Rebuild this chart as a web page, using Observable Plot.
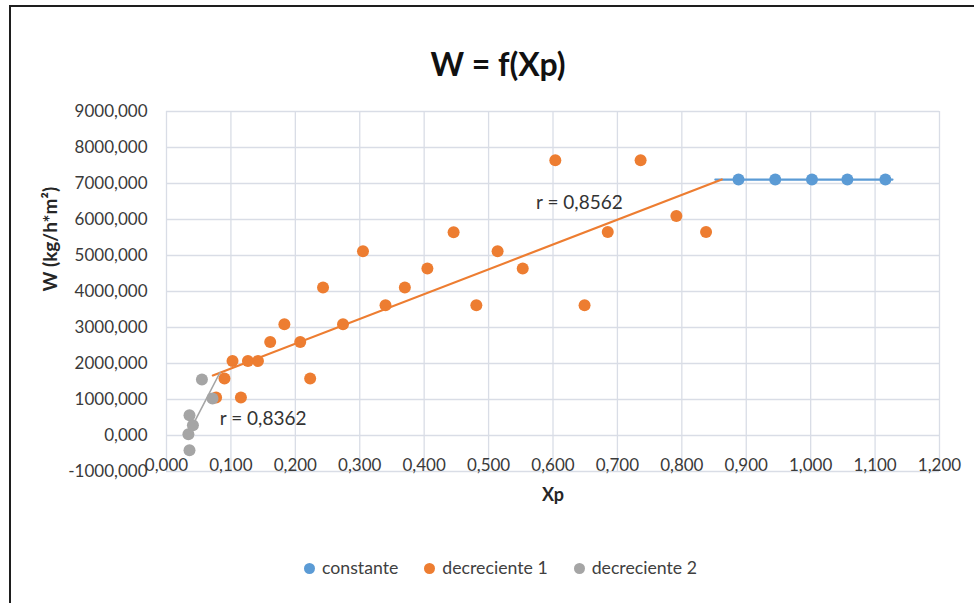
<!DOCTYPE html>
<html><head><meta charset="utf-8">
<script src="https://cdn.jsdelivr.net/npm/d3@7"></script>
<script src="https://cdn.jsdelivr.net/npm/@observablehq/plot@0.6"></script>
<style>
body{margin:0;background:#fff;}
#wrap{position:relative;width:974px;height:603px;overflow:hidden;font-family:Lato,sans-serif;background:#fff;}
#wrap svg{position:absolute;left:0;top:0;}
#frame{position:absolute;left:9px;top:5px;right:-4px;bottom:-4px;border-left:2px solid #1e1e1e;border-top:2px solid #1e1e1e;pointer-events:none;}
#legend{position:absolute;top:556px;left:304px;display:flex;align-items:center;font-size:17.7px;color:#404040;white-space:nowrap;line-height:24px;}
.item{display:flex;align-items:center;margin-right:26px;}
.sw{width:11px;height:11px;border-radius:50%;margin-right:7px;}
</style></head>
<body><div id="wrap"></div>
<script>
// ---- text ----
const title = "W = f(Xp)";
const xTitle = "Xp";
const yTitle = "W (kg/h*m²)";
const seriesNames = ["constante", "decreciente 1", "decreciente 2"];
const seriesColors = ["#5b9bd5", "#ed7d31", "#a5a5a5"];

// ---- ticks ----
const xTicks = [0, 0.1, 0.2, 0.3, 0.4, 0.5, 0.6, 0.7, 0.8, 0.9, 1.0, 1.1, 1.2];
const yTicks = [-1000, 0, 1000, 2000, 3000, 4000, 5000, 6000, 7000, 8000, 9000];

// ---- series: constante ----
const constX = [0.888, 0.945, 1.002, 1.057, 1.116];
const constW = [7110, 7110, 7110, 7110, 7110];

// ---- series: decreciente 1 ----
const dec1X = [0.077, 0.090, 0.1025, 0.1155, 0.1264, 0.142, 0.161, 0.183, 0.2076, 0.223, 0.243, 0.274, 0.305,
               0.340, 0.370, 0.405, 0.4457, 0.481, 0.514, 0.553, 0.6036, 0.649, 0.685, 0.736, 0.7915, 0.8376];
const dec1W = [1055, 1583, 2072, 1055, 2072, 2072, 2600, 3092, 2600, 1583, 4111, 3092, 5119,
               3619, 4111, 4639, 5647, 3619, 5119, 4639, 7647, 3619, 5656, 7647, 6100, 5656];

// ---- series: decreciente 2 ----
const dec2X = [0.034, 0.0357, 0.0357, 0.041, 0.055, 0.0714];
const dec2W = [36, -408, 564, 286, 1555, 1028];

// ---- trend lines ----
const trendConstX = [0.852, 1.127];
const trendConstW = [7110, 7110];
const trend1X = [0.072, 0.862];
const trend1W = [1667, 7111];
const trend2X = [0.042, 0.083];
const trend2W = [330, 1750];

// ---- annotations ----
const annText = ["r = 0,8562", "r = 0,8362"];
const annX = [0.641, 0.150];
const annW = [6453, 453];

// ---- build tables ----
const rows = (xs, ws) => xs.map((x, i) => ({x, w: ws[i]}));
const constRows = rows(constX, constW);
const dec1Rows = rows(dec1X, dec1W);
const dec2Rows = rows(dec2X, dec2W);
const tConst = rows(trendConstX, trendConstW);
const t1 = rows(trend1X, trend1W);
const t2 = rows(trend2X, trend2W);
const ann = annText.map((t, i) => ({t, x: annX[i], w: annW[i]}));

const fmt = v => v.toFixed(3).replace(".", ",");
const gridStyle = {stroke: "#d9dde6", strokeOpacity: 1, strokeWidth: 1.3};

const chart = Plot.plot({
  width: 974, height: 603,
  marginLeft: 166, marginRight: 35, marginTop: 111, marginBottom: 132,
  style: {fontFamily: "Lato, sans-serif", fontSize: "17px", color: "#3a3a3a", background: "transparent", overflow: "visible"},
  x: {domain: [0, 1.2]},
  y: {domain: [-1000, 9000]},
  marks: [
    Plot.gridY(yTicks, gridStyle),
    Plot.gridX(xTicks, gridStyle),
    Plot.axisY(yTicks, {tickSize: 0, tickPadding: 19, tickFormat: fmt, label: null}),
    Plot.axisX(xTicks, {tickSize: 0, tickPadding: 0, dy: -13, tickFormat: fmt, label: null}),
    Plot.dot(constRows, {x: "x", y: "w", r: 6, fill: seriesColors[0]}),
    Plot.dot(dec1Rows, {x: "x", y: "w", r: 6, fill: seriesColors[1]}),
    Plot.dot(dec2Rows, {x: "x", y: "w", r: 6, fill: seriesColors[2]}),
    Plot.line(tConst, {x: "x", y: "w", stroke: seriesColors[0], strokeWidth: 2.2}),
    Plot.line(t1, {x: "x", y: "w", stroke: seriesColors[1], strokeWidth: 2.2}),
    Plot.line(t2, {x: "x", y: "w", stroke: seriesColors[2], strokeWidth: 1.6}),
    Plot.text(ann, {x: "x", y: "w", text: "t", fontSize: 19, fill: "#333"}),
    Plot.text([title], {frameAnchor: "top", dy: -58, dx: -55, fontSize: 32, fontWeight: "bold", fill: "#111"}),
    Plot.text([xTitle], {frameAnchor: "bottom", dy: 29, fontSize: 18, fontWeight: "bold", fill: "#262626"}),
    Plot.text([yTitle], {frameAnchor: "left", dx: -116, rotate: -90, fontSize: 19, fontWeight: "bold", fill: "#262626"})
  ]
});

const wrap = document.getElementById("wrap");
wrap.appendChild(chart);
const frame = document.createElement("div");
frame.id = "frame";
wrap.appendChild(frame);
const legend = document.createElement("div");
legend.id = "legend";
seriesNames.forEach((n, i) => {
  const it = document.createElement("div");
  it.className = "item";
  const sw = document.createElement("span");
  sw.className = "sw";
  sw.style.background = seriesColors[i];
  const tx = document.createElement("span");
  tx.textContent = n;
  it.appendChild(sw); it.appendChild(tx);
  legend.appendChild(it);
});
wrap.appendChild(legend);
</script>
</body></html>
